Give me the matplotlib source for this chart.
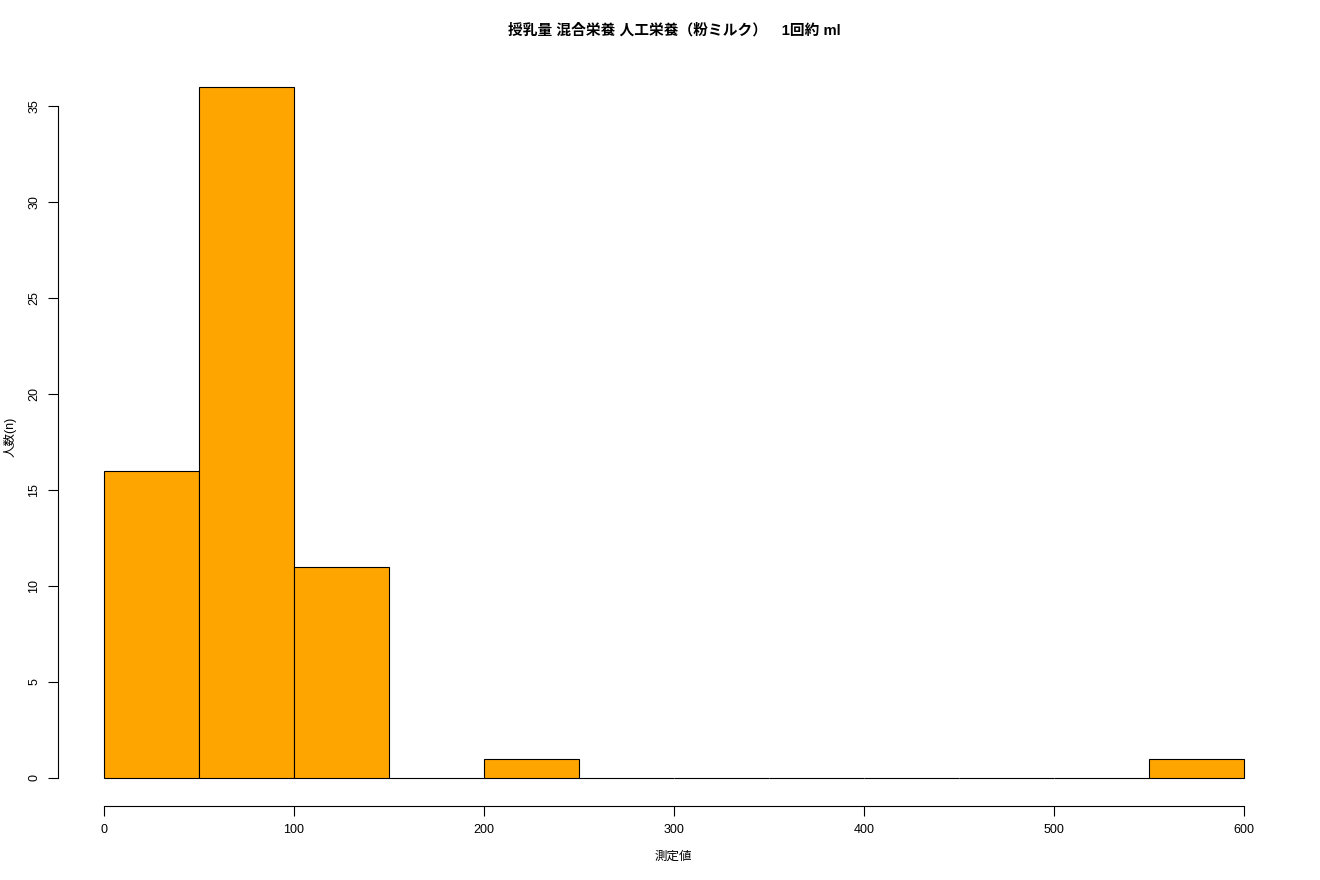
import matplotlib
matplotlib.use("Agg")
import numpy as np
import matplotlib.pyplot as plt

plt.rcParams['font.family'] = ['Liberation Sans', 'Noto Sans CJK JP', 'DejaVu Sans']

# histogram bins (ml) and counts
bin_edges = [0, 50, 100, 150, 200, 250, 300, 350, 400, 450, 500, 550, 600]
counts = [16, 36, 11, 0, 1, 0, 0, 0, 0, 0, 0, 1]
x_ticks = [0, 100, 200, 300, 400, 500, 600]
y_ticks = [0, 5, 10, 15, 20, 25, 30, 35]

title = "授乳量 混合栄養 人工栄養（粉ミルク）　1回約 ml"
xlabel = "測定値"
ylabel = "人数(n)"

W, H = 1320, 880
fig = plt.figure(figsize=(W / 100, H / 100), dpi=100)
left, right, top, bottom = 58.4, 1289.6, 59.2, 805.6
ax = fig.add_axes([left / W, 1 - bottom / H, (right - left) / W, (bottom - top) / H])

edges = np.array(bin_edges)
ax.bar(edges[:-1], counts, width=np.diff(edges), align='edge',
       color='#FFA500', edgecolor='black', linewidth=0.8)

ax.set_xlim(-24, 624)
ax.set_ylim(-1.44, 37.44)
ax.set_xticks(x_ticks)
ax.set_yticks(y_ticks)
ax.set_yticklabels([str(v) for v in y_ticks], rotation=90, va='center')
ax.tick_params(axis='both', labelsize=9, length=7, width=0.8, pad=6)

for s in ['top', 'right']:
    ax.spines[s].set_visible(False)
ax.spines['left'].set_bounds(0, 35)
ax.spines['bottom'].set_bounds(0, 600)
ax.spines['left'].set_linewidth(0.8)
ax.spines['bottom'].set_linewidth(0.8)

fig.text(674 / W, 1 - 30 / H, title, ha='center', va='center', fontsize=10.6, fontweight='bold')
fig.text(673 / W, 1 - 857 / H, xlabel, ha='center', va='center', fontsize=9)
fig.text(10 / W, 1 - 437 / H, ylabel, ha='center', va='center', fontsize=9, rotation=90)

fig.savefig("out.png", dpi=100)
